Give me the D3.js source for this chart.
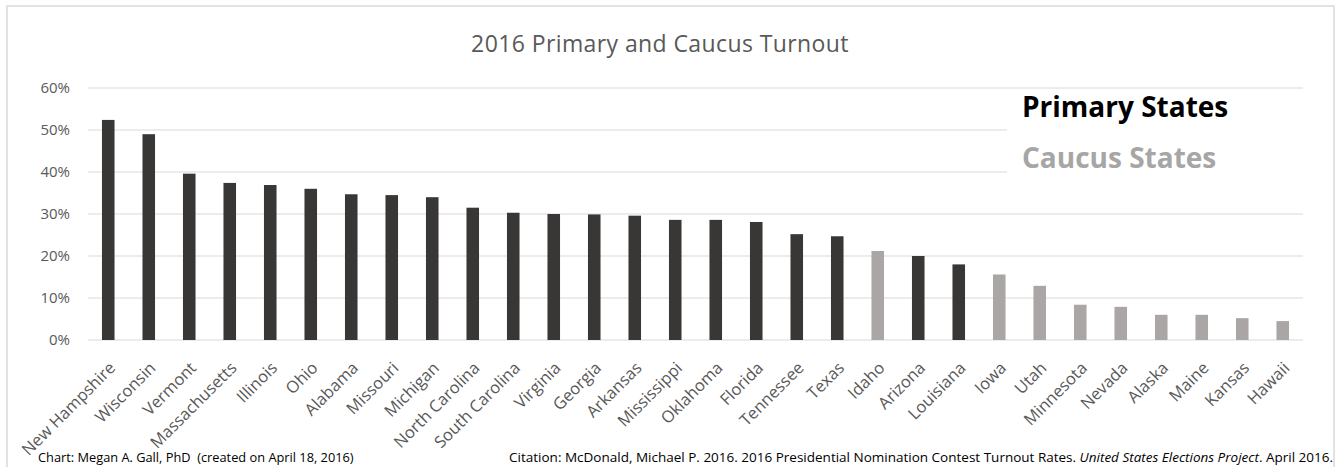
<!DOCTYPE html>
<html><head><meta charset="utf-8">
<script src="https://cdn.jsdelivr.net/npm/d3@7"></script>
<style>
body{margin:0;background:#fff;}
svg{display:block;font-family:"Open Sans","Noto Sans",sans-serif;}
</style></head>
<body>
<svg id="c" width="1338" height="467"></svg>
<script>
const states = ["New Hampshire","Wisconsin","Vermont","Massachusetts","Illinois","Ohio","Alabama","Missouri","Michigan","North Carolina","South Carolina","Virginia","Georgia","Arkansas","Mississippi","Oklahoma","Florida","Tennessee","Texas","Idaho","Arizona","Louisiana","Iowa","Utah","Minnesota","Nevada","Alaska","Maine","Kansas","Hawaii"];
const turnout = [52.4,49.0,39.6,37.4,36.9,36.0,34.7,34.5,34.0,31.5,30.3,30.0,29.9,29.6,28.6,28.6,28.1,25.2,24.7,21.2,20.0,18.0,15.6,12.9,8.4,7.9,6.0,6.0,5.2,4.5];
const contestType = ["P","P","P","P","P","P","P","P","P","P","P","P","P","P","P","P","P","P","P","C","P","P","C","C","C","C","C","C","C","C"];
const yTicks = [0,10,20,30,40,50,60];
const legendLabels = ["Primary States","Caucus States"];

const svg = d3.select("#c");
const colors = {P:"#393735", C:"#a9a6a5"};
const legendColors = ["#000000","#a6a6a6"];

// frame
svg.append("rect").attr("x",7).attr("y",6).attr("width",1327).attr("height",470)
  .attr("fill","#fff").attr("stroke","#d9d9d9").attr("stroke-width",1.5);

const x = d3.scaleBand().domain(states).range([88,1303]).paddingInner(0.69).paddingOuter(0.345);
const y = d3.scaleLinear().domain([0,60]).range([340,88]);

// gridlines
svg.append("g").selectAll("line").data(yTicks).join("line")
  .attr("x1",88).attr("x2",1303)
  .attr("y1",d=>y(d)).attr("y2",d=>y(d))
  .attr("stroke","#d9d9d9").attr("stroke-width",1);

// y axis labels
const yAxis = d3.axisLeft(y).tickValues(yTicks).tickFormat(d=>d+"%").tickSize(0).tickPadding(18);
const gy = svg.append("g").attr("transform","translate(88,0)").call(yAxis);
gy.select(".domain").remove();
gy.selectAll("text").attr("fill","#595959").style("font-size","15px").style("font-family","'Open Sans','Noto Sans',sans-serif");

// legend background
svg.append("rect").attr("x",1007).attr("y",92).attr("width",296).attr("height",84).attr("fill","#fff");

// bars
svg.append("g").selectAll("rect").data(states).join("rect")
  .attr("x",d=>x(d)).attr("width",x.bandwidth())
  .attr("y",(d,i)=>y(turnout[i])).attr("height",(d,i)=>y(0)-y(turnout[i]))
  .attr("fill",(d,i)=>colors[contestType[i]]);

// x axis labels
const xAxis = d3.axisBottom(x).tickSize(0).tickPadding(0);
const gx = svg.append("g").attr("transform","translate(0,340)").call(xAxis);
gx.select(".domain").remove();
gx.selectAll("text")
  .attr("fill","#595959").style("font-size","16.5px").style("font-family","'Open Sans','Noto Sans',sans-serif")
  .attr("text-anchor","end").attr("dy",null).attr("y",null)
  .attr("transform","translate(8,29) rotate(-45)");

// title
svg.append("text").attr("x",660).attr("y",52).attr("text-anchor","middle")
  .attr("fill","#595959").style("font-size","23px").style("letter-spacing","0.4px").text("2016 Primary and Caucus Turnout");

// legend
svg.append("g").selectAll("text").data(legendLabels).join("text")
  .attr("x",1022).attr("y",(d,i)=>117+i*51)
  .attr("fill",(d,i)=>legendColors[i]).style("font-size","28px").style("font-weight","bold")
  .text(d=>d);

// footer
svg.append("text").attr("x",38).attr("y",462).attr("fill","#000").style("font-size","12.8px")
  .attr("xml:space","preserve").text("Chart: Megan A. Gall, PhD  (created on April 18, 2016)");
const cit = svg.append("text").attr("x",1333).attr("y",462).attr("text-anchor","end").attr("fill","#000").style("font-size","13.5px");
cit.append("tspan").text("Citation: McDonald, Michael P. 2016. 2016 Presidential Nomination Contest Turnout Rates. ");
cit.append("tspan").style("font-style","italic").text("United States Elections Project");
cit.append("tspan").text(". April 2016.");
</script>
</body></html>
